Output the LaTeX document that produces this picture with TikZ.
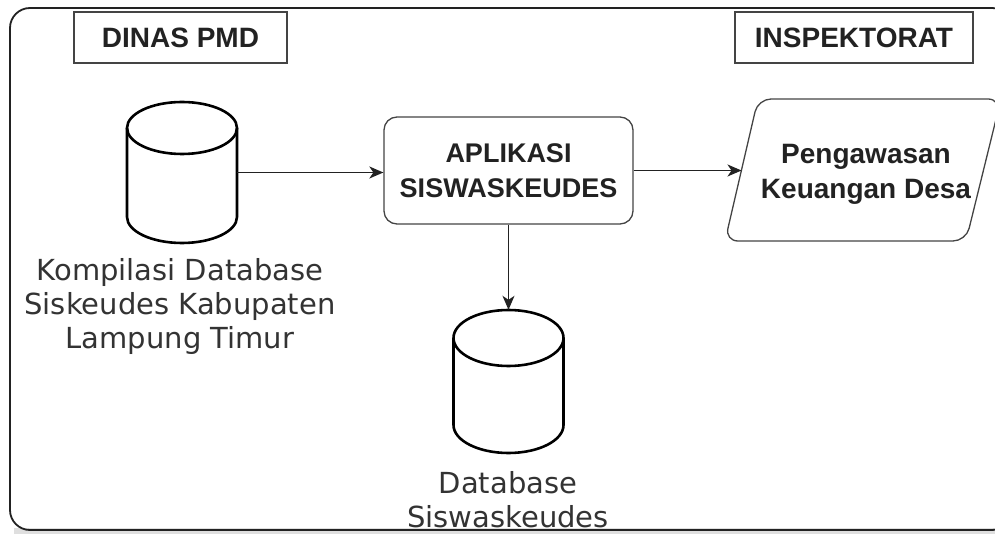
\documentclass[tikz,border=0pt]{standalone}
\usepackage{fontspec}
\usetikzlibrary{arrows.meta}
\newfontfamily\hdfont{Liberation Sans}
\newfontfamily\labfont{DejaVu Sans}
\definecolor{ink}{HTML}{222222}
\definecolor{labink}{HTML}{333333}
\definecolor{boxline}{HTML}{444444}
\tikzset{
  hdbox/.style={draw=boxline, line width=1.3pt, inner sep=0pt,
    font=\hdfont\bfseries\fontsize{28}{34}\selectfont, text=ink},
  appbox/.style={draw=boxline, line width=1.3pt, rounded corners=13pt, inner sep=0pt,
    align=center, font=\hdfont\bfseries\fontsize{27}{35}\selectfont, text=ink},
  lab/.style={inner sep=0pt, align=center, anchor=north,
    font=\labfont\fontsize{29}{34}\selectfont, text=labink},
  cyl/.style={draw=black, line width=2.6pt},
  conn/.style={draw=ink, line width=1.4pt, -{Stealth[length=14pt,width=12pt,inset=4pt]}},
  holder/.style={inner sep=0pt, minimum width=110pt}
}
\begin{document}
\begin{tikzpicture}[x=1pt,y=-1pt]
\useasboundingbox (0,0) rectangle (995,534);
% shadow band and outer frame
\fill[gray!25] (14,528) rectangle (995,534);
\draw[draw=ink, line width=1.8pt, rounded corners=20pt] (10,8) rectangle (1012,530);

% headers
\node[hdbox, minimum width=213pt, minimum height=51pt] (dinas) at (180.5,37.5) {DINAS PMD};
\node[hdbox, minimum width=238pt, minimum height=51pt] (insp) at (854,37.5) {INSPEKTORAT};

% database 1
\node[holder, minimum height=141pt] (db1) at (182,172.5) {};
\draw[cyl] (182,128) ellipse[x radius=55pt, y radius=26pt];
\draw[cyl] (127,128) -- (127,217) arc[start angle=180, end angle=360, x radius=55pt, y radius=26pt] -- (237,128);
\node[lab] (lab1) at (180,258) {Kompilasi Database\\Siskeudes Kabupaten\\Lampung Timur};

% application
\node[appbox, minimum width=249pt, minimum height=107pt] (app) at (508.5,170.5) {APLIKASI\\SISWASKEUDES};

% database 2
\node[holder, minimum height=143pt] (db2) at (508.5,381.5) {};
\draw[cyl] (508.5,338) ellipse[x radius=55pt, y radius=28pt];
\draw[cyl] (453.5,338) -- (453.5,425) arc[start angle=180, end angle=360, x radius=55pt, y radius=28pt] -- (563.5,338);
\node[lab] (lab2) at (508,471) {Database\\Siswaskeudes};

% output parallelogram
\draw[draw=boxline, line width=1.3pt, rounded corners=13pt] (725,241) -- (758,99) -- (1001,99) -- (966,241) -- cycle;
\coordinate (pl) at (741.5,170.5);
\node[inner sep=0pt, anchor=north, align=center, font=\hdfont\bfseries\fontsize{28}{35}\selectfont, text=ink] (out) at (866,144) {Pengawasan\\Keuangan Desa};

% connectors
\draw[conn] (db1.east) -- (db1.east -| app.west);
\draw[conn] (app.east) -- (pl);
\draw[conn] (app.south) -- (db2.north);
\end{tikzpicture}
\end{document}
